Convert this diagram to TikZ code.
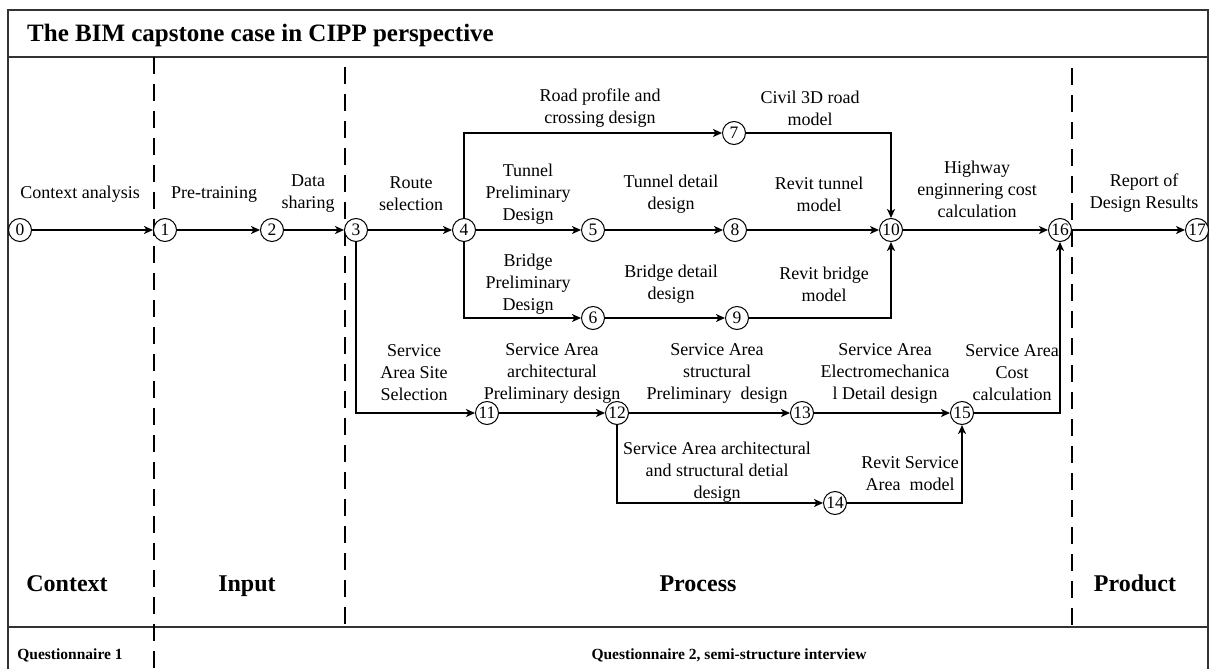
\documentclass[tikz,border=0pt]{standalone}
\usepackage{fontspec}
\setmainfont{Liberation Serif}
\usetikzlibrary{arrows.meta}
\tikzset{
  num/.style={draw, circle, line width=1pt, inner sep=0pt, minimum size=23pt, fill=white, font=\fontsize{17.5}{17.5}\selectfont},
  lbl/.style={align=center, inner sep=0pt, font=\fontsize{18}{22}\selectfont},
  phase/.style={anchor=base, inner sep=0pt, font=\fontsize{24}{24}\selectfont\bfseries},
  tool/.style={anchor=base, inner sep=0pt, font=\fontsize{15.5}{16}\selectfont\bfseries},
  arr/.style={-{Stealth[length=9pt,width=8pt,inset=2.5pt]}, line width=1.7pt},
  frm/.style={line width=1.2pt, draw=black!80},
  sep/.style={line width=1.3pt, dash pattern=on 17pt off 10pt}
}
\begin{document}
\begin{tikzpicture}[x=1pt, y=-1pt]
    \useasboundingbox (0,0) rectangle (1209,669);
    \draw[frm] (8,669) -- (8,10) -- (1208,10) -- (1208,669);
    \draw[frm] (8,57) -- (1208,57);
    \draw[frm] (8,627) -- (1208,627);
    \draw[sep] (154,57) -- (154,669);
    \draw[sep] (345,67) -- (345,627);
    \draw[sep] (1072,68) -- (1072,627);
    \node[anchor=west, inner sep=0pt, font=\fontsize{25}{25}\selectfont\bfseries] (title) at (27,35) {The BIM capstone case in CIPP perspective};
    \foreach \n/\x/\y in {0/20/230, 1/165/230, 2/272/230, 3/356/230, 4/464/230, 5/593/230,
        6/593/318, 7/734/133, 8/735/230, 9/737/318, 10/891/230, 11/487/413, 12/617/413,
        13/802/413, 14/835/503, 15/962/413, 16/1060/230, 17/1197/230}
        \node[num] (n\n) at (\x,\y) {\n};
    \draw[arr] (n0) -- (n1);
    \draw[arr] (n1) -- (n2);
    \draw[arr] (n2) -- (n3);
    \draw[arr] (n3) -- (n4);
    \draw[arr] (n4) -- (n5);
    \draw[arr] (n5) -- (n8);
    \draw[arr] (n8) -- (n10);
    \draw[arr] (n10) -- (n16);
    \draw[arr] (n16) -- (n17);
    \draw[arr] (n4) |- (n7);
    \draw[arr] (n7) -| (n10);
    \draw[arr] (n4) |- (n6);
    \draw[arr] (n6) -- (n9);
    \draw[arr] (n9) -| (n10);
    \draw[arr] (n3) |- (n11);
    \draw[arr] (n11) -- (n12);
    \draw[arr] (n12) -- (n13);
    \draw[arr] (n13) -- (n15);
    \draw[arr] (n12) |- (n14);
    \draw[arr] (n14) -| (n15);
    \draw[arr] (n15) -| (n16);
    \node[lbl] (ctx) at (80,194) {Context analysis};
    \node[lbl] (pre) at (214,194) {Pre-training};
    \node[lbl] (data) at (308,194) {Data\\sharing};
    \node[lbl] (route) at (411,194) {Route\\selection};
    \node[lbl] (tpre) at (528,194) {Tunnel\\Preliminary\\Design};
    \node[lbl] (road) at (600,108) {Road profile and\\crossing design};
    \node[lbl] (civil) at (810,108) {Civil 3D road\\model};
    \node[lbl] (tdet) at (671,194) {Tunnel detail\\design};
    \node[lbl] (rtun) at (819,194) {Revit tunnel\\model};
    \node[lbl] (hway) at (977,189) {Highway\\enginnering cost\\calculation};
    \node[lbl] (rep) at (1144,193) {Report of\\Design Results};
    \node[lbl] (bpre) at (528,284) {Bridge\\Preliminary\\Design};
    \node[lbl] (bdet) at (671,284) {Bridge detail\\design};
    \node[lbl] (rbri) at (824,284) {Revit bridge\\model};
    \node[lbl] (site) at (414,373) {Service\\Area Site\\Selection};
    \node[lbl] (sarch) at (552,373) {Service Area\\architectural\\Preliminary design};
    \node[lbl] (sstr) at (717,373) {Service Area\\structural\\Preliminary~~design};
    \node[lbl] (selec) at (885,373) {Service Area\\Electromechanica\\l Detail design};
    \node[lbl] (scost) at (1012,373) {Service Area\\Cost\\calculation};
    \node[lbl] (sdet) at (717,472) {Service Area architectural\\and structural detial\\design};
    \node[lbl] (rsa) at (910,474) {Revit Service\\Area~~model};
    \node[phase] (pc) at (67,591) {Context};
    \node[phase] (pi) at (247,591) {Input};
    \node[phase] (pp) at (698,591) {Process};
    \node[phase] (pd) at (1135,591) {Product};
    \node[tool] (q1) at (70,659) {Questionnaire 1};
    \node[tool] (q2) at (729,659) {Questionnaire 2, semi-structure interview};
\end{tikzpicture}
\end{document}
